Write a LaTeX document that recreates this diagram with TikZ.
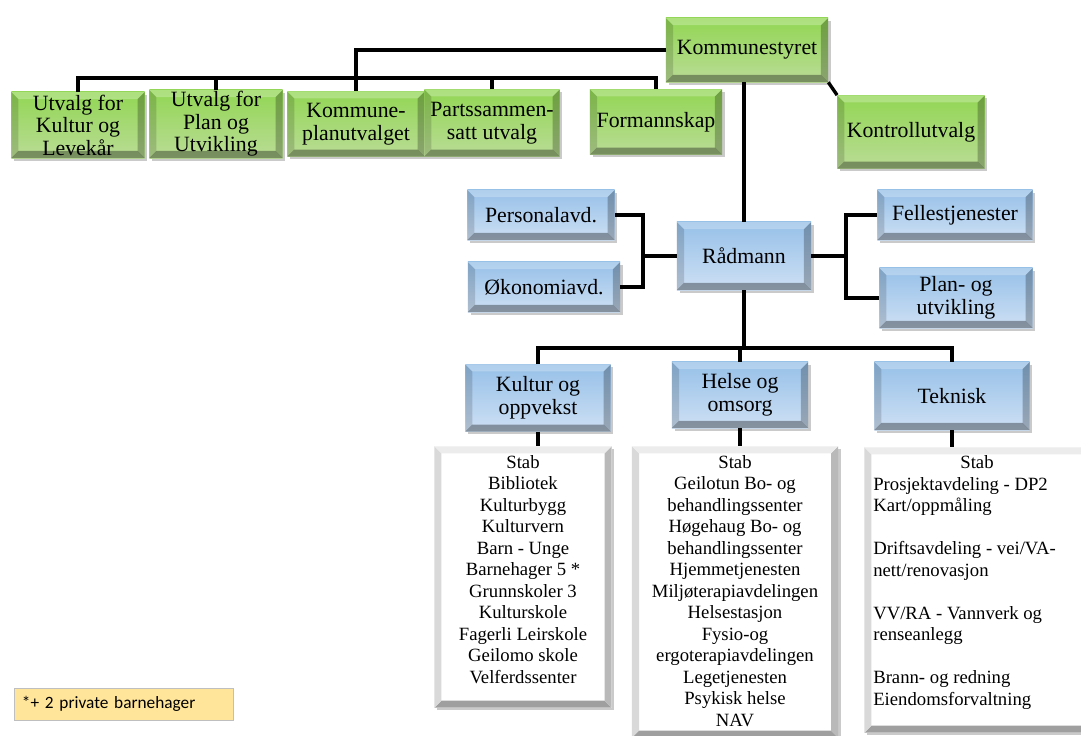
\documentclass[tikz,border=0pt]{standalone}
\usepackage{fontspec}
\setmainfont{Liberation Serif}
\newfontfamily\calibri{Carlito}
\usetikzlibrary{shadows, positioning}

\definecolor{grtop}{RGB}{146,214,84}
\definecolor{grbot}{RGB}{186,220,150}
\definecolor{bltop}{RGB}{150,192,232}
\definecolor{blbot}{RGB}{206,224,244}
\definecolor{notefill}{RGB}{255,229,153}

\tikzset{
  bevel/.style={path picture={
    \fill[black,opacity=.35] (path picture bounding box.south west) -- (path picture bounding box.south east)
       -- ([shift={(-5pt,5pt)}]path picture bounding box.south east) -- ([shift={(5pt,5pt)}]path picture bounding box.south west) -- cycle;
    \fill[black,opacity=.25] (path picture bounding box.south east) -- (path picture bounding box.north east)
       -- ([shift={(-5pt,-5pt)}]path picture bounding box.north east) -- ([shift={(-5pt,5pt)}]path picture bounding box.south east) -- cycle;
    \fill[black,opacity=.15] (path picture bounding box.south west) -- (path picture bounding box.north west)
       -- ([shift={(5pt,-5pt)}]path picture bounding box.north west) -- ([shift={(5pt,5pt)}]path picture bounding box.south west) -- cycle;
    \fill[white,opacity=.25] (path picture bounding box.north west) -- (path picture bounding box.north east)
       -- ([shift={(-5pt,-5pt)}]path picture bounding box.north east) -- ([shift={(5pt,-5pt)}]path picture bounding box.north west) -- cycle;
  }},
  greybevel/.style={path picture={
    \fill[gray!75] (path picture bounding box.south west) -- (path picture bounding box.south east)
       -- ([shift={(-5pt,5pt)}]path picture bounding box.south east) -- ([shift={(5pt,5pt)}]path picture bounding box.south west) -- cycle;
    \fill[gray!55] (path picture bounding box.south east) -- (path picture bounding box.north east)
       -- ([shift={(-5pt,-5pt)}]path picture bounding box.north east) -- ([shift={(-5pt,5pt)}]path picture bounding box.south east) -- cycle;
    \fill[gray!30] (path picture bounding box.south west) -- (path picture bounding box.north west)
       -- ([shift={(5pt,-5pt)}]path picture bounding box.north west) -- ([shift={(5pt,5pt)}]path picture bounding box.south west) -- cycle;
    \fill[gray!15] (path picture bounding box.north west) -- (path picture bounding box.north east)
       -- ([shift={(-5pt,-5pt)}]path picture bounding box.north east) -- ([shift={(5pt,-5pt)}]path picture bounding box.north west) -- cycle;
  }},
  box/.style={rectangle, bevel, align=center, inner sep=1pt,
    font=\fontsize{15.5}{16}\selectfont,
    drop shadow={shadow xshift=2pt, shadow yshift=-2pt, fill=gray!70, opacity=.6}},
  green/.style={box, top color=grtop, bottom color=grbot},
  blue/.style={box, top color=bltop, bottom color=blbot},
  list/.style={rectangle, greybevel, fill=white,
    drop shadow={shadow xshift=2pt, shadow yshift=-2pt, fill=gray!70, opacity=.6}},
  items/.style={align=center, inner sep=0pt, font=\fontsize{13.3}{15.3}\selectfont},
  link/.style={line width=2.4pt, black}
}

\begin{document}
\begin{tikzpicture}[x=0.025cm, y=-0.025cm]
  \useasboundingbox (0,0) rectangle (1081,736);

  % politisk nivaa
  \node[green, minimum width=4.05cm, minimum height=1.6cm] (komm) at (747,50) {Kommunestyret};
  \node[green, minimum width=3.33cm, minimum height=1.65cm] (ukult) at (78,125) {Utvalg for\\Kultur og\\Levekår};
  \node[green, minimum width=3.33cm, minimum height=1.7cm] (uplan) at (216,124) {Utvalg for\\Plan og\\Utvikling};
  \node[green, minimum width=3.43cm, minimum height=1.63cm] (kplan) at (356,124) {Kommune-\\planutvalget};
  \node[green, minimum width=3.38cm, minimum height=1.68cm] (parts) at (492,123) {Partssammen-\\satt utvalg};
  \node[green, minimum width=3.3cm, minimum height=1.63cm] (form) at (656,122) {Formannskap};
  \node[green, minimum width=3.68cm, minimum height=1.83cm] (kontr) at (911,132) {Kontrollutvalg};

  % administrasjon
  \node[blue, minimum width=3.35cm, minimum height=1.7cm] (radm) at (744,256) {Rådmann};
  \node[blue, minimum width=3.68cm, minimum height=1.25cm] (pers) at (541,215) {Personalavd.};
  \node[blue, minimum width=3.8cm, minimum height=1.25cm] (okon) at (544,287) {Økonomiavd.};
  \node[blue, minimum width=3.88cm, minimum height=1.25cm] (fell) at (955,215) {Fellestjenester};
  \node[blue, minimum width=3.83cm, minimum height=1.5cm] (plan) at (956,298) {Plan- og\\utvikling};

  % sektorer
  \node[blue, minimum width=3.63cm, minimum height=1.68cm] (kult) at (538,398) {Kultur og\\oppvekst};
  \node[blue, minimum width=3.4cm, minimum height=1.65cm] (hels) at (740,395) {Helse og\\omsorg};
  \node[blue, minimum width=3.88cm, minimum height=1.7cm] (tekn) at (952,396) {Teknisk};

  % lister
  \node[list, minimum width=4.43cm, minimum height=6.53cm] (kultl) at (523,577) {};
  \node[items, anchor=north] (kultt) at (523,455) {Stab\\Bibliotek\\Kulturbygg\\Kulturvern\\Barn - Unge\\Barnehager 5 *\\Grunnskoler 3\\Kulturskole\\Fagerli Leirskole\\Geilomo skole\\Velferdssenter};
  \node[list, minimum width=5.15cm, minimum height=7.28cm] (helsl) at (735,592) {};
  \node[items, anchor=north] (helst) at (735,455) {Stab\\Geilotun Bo- og\\behandlingssenter\\Høgehaug Bo- og\\behandlingssenter\\Hjemmetjenesten\\Miljøterapiavdelingen\\Helsestasjon\\Fysio-og\\ergoterapiavdelingen\\Legetjenesten\\Psykisk helse\\NAV};
  \node[list, minimum width=5.63cm, minimum height=7.13cm] (teknl) at (977,590) {};
  \node[items, anchor=north] (tekns) at (977,455) {Stab};
  \node[items, align=left, anchor=north west] (teknt) at (873,477) {Prosjektavdeling - DP2\\Kart/oppmåling\\[15.3pt]Driftsavdeling - vei/VA-\\nett/renovasjon\\[15.3pt]VV/RA - Vannverk og\\renseanlegg\\[15.3pt]Brann- og redning\\Eiendomsforvaltning};

  \node[draw=gray!50, fill=notefill, minimum width=5.48cm, minimum height=0.8cm, text width=5.1cm, align=left, font=\calibri\fontsize{12.3}{14}\selectfont] (note) at (124,704) {*+ 2 private barnehager};

  % linjer
  \coordinate (bar1) at (0,78);
  \coordinate (bar2) at (0,348);
  \coordinate (lj) at (643,0);
  \coordinate (rj) at (846,0);
  \draw[link] (komm.west) -| (kplan.north);
  \draw[link] (ukult.north) |- (bar1 -| form.north) -- (form.north);
  \draw[link] (uplan.north) -- (uplan.north |- bar1);
  \draw[link] (parts.north) -- (parts.north |- bar1);
  \draw[link] (komm.south east) -- (kontr.north west);
  \draw[link] (radm.north) -- (radm.north |- komm.south);
  \draw[link] (pers.east) -| (lj |- okon.east) -- (okon.east);
  \draw[link] (radm.west) -- (radm.west -| lj);
  \draw[link] (fell.west) -| (rj |- plan.west) -- (plan.west);
  \draw[link] (radm.east) -- (radm.east -| rj);
  \draw[link] (radm.south) -- (radm.south |- bar2);
  \draw[link] (kult.north) |- (bar2 -| tekn.north) -- (tekn.north);
  \draw[link] (hels.north) -- (hels.north |- bar2);
  \draw[link] (kult.south) -- (kult.south |- kultl.north);
  \draw[link] (hels.south) -- (hels.south |- helsl.north);
  \draw[link] (tekn.south) -- (tekn.south |- teknl.north);
\end{tikzpicture}
\end{document}
